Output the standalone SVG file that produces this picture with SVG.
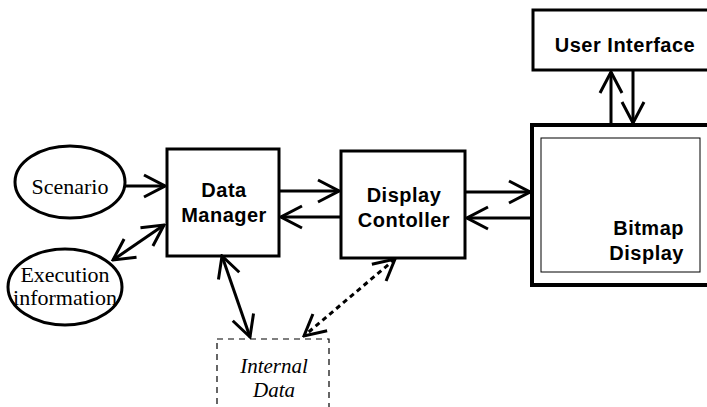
<svg xmlns="http://www.w3.org/2000/svg" width="707" height="407" viewBox="0 0 707 407">
  <style>
    .box { fill: #fff; stroke: #000; stroke-width: 3; }
    .ell { fill: #fff; stroke: #000; stroke-width: 3; }
    .lbl { font-family: "Liberation Sans", Arial, sans-serif; font-weight: bold; font-size: 20px; letter-spacing: 0.5px; text-anchor: middle; fill: #000; }
    .ser { font-family: "Liberation Serif", "Times New Roman", serif; font-size: 22px; text-anchor: middle; fill: #000; }
    .ita { font-family: "Liberation Serif", "Times New Roman", serif; font-style: italic; font-size: 21px; text-anchor: middle; fill: #000; }
    .ln { fill: none; stroke: #000; stroke-width: 3; }
    .dot { stroke-dasharray: 5 4; }
  </style>
  <defs>
    <!-- open V arrowhead, reused for every connector end -->
    <marker id="arr" viewBox="0 0 26 26" refX="24" refY="13" markerWidth="26" markerHeight="26" markerUnits="userSpaceOnUse" orient="auto-start-reverse">
      <path d="M3,2 L24,13 L3,24" fill="none" stroke="#000" stroke-width="3"/>
    </marker>
  </defs>

  <rect width="707" height="407" fill="#fff"/>

  <g id="scenario">
    <ellipse class="ell" cx="70" cy="182" rx="55" ry="36"/>
    <text class="ser" x="70" y="194">Scenario</text>
  </g>

  <g id="execution-information">
    <ellipse class="ell" cx="65" cy="287" rx="57" ry="38"/>
    <text class="ser" x="65" y="282">Execution</text>
    <text class="ser" x="65" y="305">information</text>
  </g>

  <g id="data-manager">
    <rect class="box" x="167" y="149" width="112" height="107"/>
    <text class="lbl" x="224" y="197">Data</text>
    <text class="lbl" x="224" y="222">Manager</text>
  </g>

  <g id="display-controller">
    <rect class="box" x="341" y="151" width="124" height="107"/>
    <text class="lbl" x="404" y="202">Display</text>
    <text class="lbl" x="404" y="227">Contoller</text>
  </g>

  <g id="user-interface">
    <rect class="box" x="533" y="10" width="180" height="60"/>
    <text class="lbl" x="625" y="52">User Interface</text>
  </g>

  <g id="bitmap-display">
    <rect x="532" y="125" width="185" height="160" fill="#fff" stroke="#000" stroke-width="4"/>
    <rect x="541" y="138" width="159" height="134" fill="#fff" stroke="#000" stroke-width="1"/>
    <text class="lbl" x="684" y="235" style="text-anchor:end">Bitmap</text>
    <text class="lbl" x="684" y="260" style="text-anchor:end">Display</text>
  </g>

  <g id="internal-data">
    <rect x="217" y="339" width="112" height="80" fill="#fff" stroke="#000" stroke-width="1.2" stroke-dasharray="6 5"/>
    <text class="ita" x="274" y="373">Internal</text>
    <text class="ita" x="274" y="397">Data</text>
  </g>

  <g id="connectors">
    <line class="ln" x1="125" y1="186" x2="165" y2="186" marker-end="url(#arr)"/>
    <line class="ln" x1="113" y1="260" x2="164" y2="225" marker-start="url(#arr)" marker-end="url(#arr)"/>
    <line class="ln" x1="279" y1="191" x2="339" y2="191" marker-end="url(#arr)"/>
    <line class="ln" x1="341" y1="217" x2="281" y2="217" marker-end="url(#arr)"/>
    <line class="ln" x1="465" y1="192" x2="530" y2="192" marker-end="url(#arr)"/>
    <line class="ln" x1="532" y1="218" x2="467" y2="218" marker-end="url(#arr)"/>
    <line class="ln" x1="611" y1="125" x2="611" y2="72" marker-end="url(#arr)"/>
    <line class="ln" x1="633" y1="70" x2="633" y2="123" marker-end="url(#arr)"/>
    <line class="ln" x1="222" y1="256" x2="250" y2="337" marker-start="url(#arr)" marker-end="url(#arr)"/>
    <line class="ln dot" x1="395" y1="259" x2="304" y2="336" marker-start="url(#arr)" marker-end="url(#arr)"/>
  </g>
</svg>
